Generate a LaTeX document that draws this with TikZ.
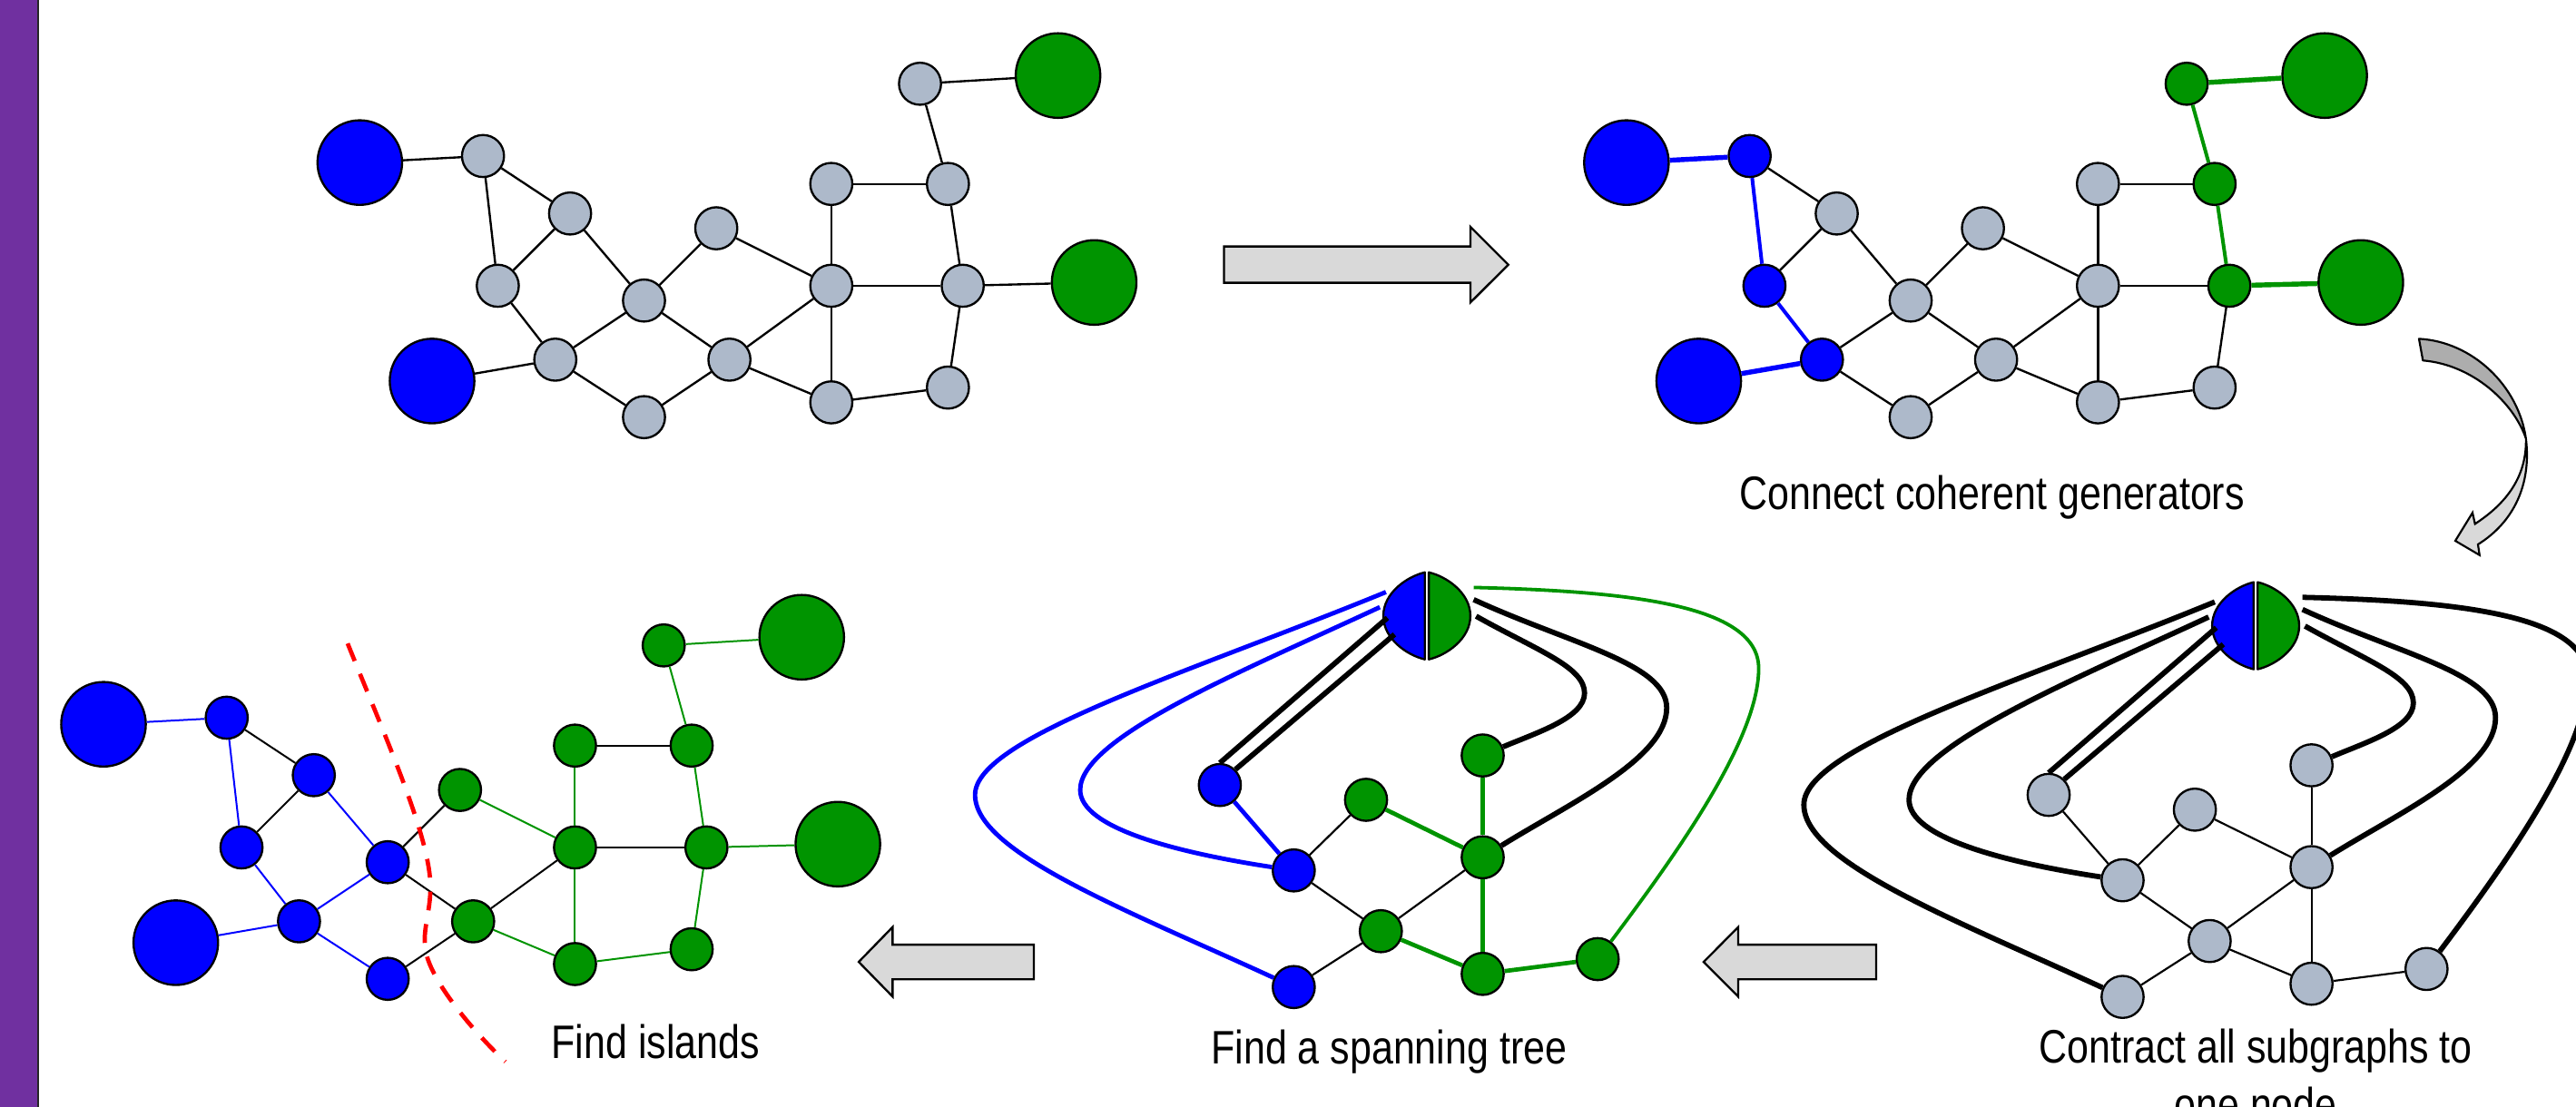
\documentclass[tikz,border=0pt]{standalone}
\usepackage{fontspec}
\newfontfamily\lblfont[FakeStretch=0.83]{Liberation Sans}
\definecolor{gblue}{RGB}{0,0,255}
\definecolor{ggreen}{RGB}{0,148,0}
\definecolor{ngray}{RGB}{173,185,202}
\definecolor{barpurple}{RGB}{112,48,160}
\definecolor{arrlight}{RGB}{217,217,217}
\definecolor{arrdark}{RGB}{173,173,173}
\definecolor{cutred}{RGB}{255,0,0}
\tikzset{
  sn/.style={circle, draw=black, line width=1.3, minimum size=25.6, inner sep=0pt},
  bn/.style={circle, draw=black, line width=1.3, minimum size=51.5, inner sep=0pt},
  ek/.style={draw=black, line width=1.3},
  eb/.style={draw=gblue, line width=2.2},
  ebT/.style={draw=gblue, line width=3},
  eg/.style={draw=ggreen, line width=2.2},
  egT/.style={draw=ggreen, line width=3},
  fk/.style={draw=black, line width=1.1},
  fb/.style={draw=gblue, line width=1.1},
  fg/.style={draw=ggreen, line width=1.1},
  ck/.style={draw=black, line width=1.2},
  cb/.style={draw=gblue, line width=2.6},
  cg/.style={draw=ggreen, line width=2.6},
  ccA/.style={draw=black, line width=3.2},
  ccI/.style={draw=black, line width=3.2},
  ccO/.style={draw=black, line width=3.2},
  ccR1/.style={draw=black, line width=3.2},
  ccR2/.style={draw=black, line width=3.2},
  ccR3/.style={draw=black, line width=3.2},
  blockarrow/.style={fill=arrlight, draw=black, line width=1.3, line join=miter},
  lbl/.style={font=\lblfont\fontsize{28.6}{34}\selectfont, anchor=base, inner sep=0pt},
}
\newcommand\fullgraph[2]{%
  \foreach \n/\px/\py in {a1/294/95, a2/347/130, a3/303/174, a4/338/219, a5/392/183,
      a6/392/254, a7/436/139, a8/444/219, a9/506/112, a10/506/174, a11/506/245,
      a12/577/112, a13/586/174, a14/577/236, a15/560/51}
    {\coordinate (p\n) at (\px,\py);}
  \foreach \n/\fc in {#1} {\node[sn,fill=\fc] (\n) at (p\n) {};}
  \node[bn,fill=gblue] (B1) at (219,99) {};
  \node[bn,fill=gblue] (B2) at (263,232) {};
  \node[bn,fill=ggreen] (G1) at (644,46) {};
  \node[bn,fill=ggreen] (G2) at (666,172) {};
  \foreach \fa/\fb/\fs in {#2} {\expandafter\draw\expandafter[\fs] (\fa) -- (\fb);}
}
\newcommand\cgraph[2]{%
  \foreach \n/\px/\py in {c1/1247/484, c2/1336/493, c3/1407/466, c4/1292/536, c5/1407/528,
      c6/1345/573, c7/1292/607, c8/1407/599, c9/1477/590}
    {\coordinate (p\n) at (\px,\py);}
  \foreach \n/\fc in {#1} {\node[sn,fill=\fc] (\n) at (p\n) {};}
  \foreach \fa/\fb/\fs in {#2} {\expandafter\draw\expandafter[\fs] (\fa) -- (\fb);}
  \node[circle, minimum size=54, inner sep=0pt] (M) at (1373,381) {};
  \begin{scope}[shift={(1373,381)}, line width=1.3, line join=round]
    \filldraw[fill=gblue] (-1.2,-26.5) .. controls (-12,-24) and (-26.5,-14) .. (-26.5,0)
      .. controls (-26.5,14) and (-12,24) .. (-1.2,26.5) -- cycle;
    \filldraw[fill=ggreen] (1.2,-26.5) .. controls (12,-24) and (26.5,-14) .. (26.5,0)
      .. controls (26.5,14) and (12,24) .. (1.2,26.5) -- cycle;
  \end{scope}
  \coordinate (mO) at (1348.1,366.5);
  \coordinate (mI) at (1344.4,375.7);
  \coordinate (mA) at (1349,382.2);
  \coordinate (mB) at (1353.3,392.3);
  \coordinate (mR1) at (1403,381.2);
  \coordinate (mR2) at (1401.5,371.1);
  \coordinate (mR3) at (1401.5,363.7);
  \draw[ccO] (mO) .. controls (1230,415) and (1098,455) .. (1098,490)
     .. controls (1098,525) and (1190,560) .. (c7);
  \draw[ccI] (mI) .. controls (1260,415) and (1162,455) .. (1162,487)
     .. controls (1162,510) and (1220,525) .. (c4);
  \draw[ccA] (mA) -- (c1.north);
  \draw[ccA] (mB) -- (c1.45);
  \draw[ccR1] (mR1) .. controls (1440,402) and (1469,412) .. (1469,428)
     .. controls (1469,443) and (1440,452) .. (c3);
  \draw[ccR2] (mR2) .. controls (1460,398) and (1519,410) .. (1519,437)
     .. controls (1519,468) and (1460,495) .. (c5);
  \draw[ccR3] (mR3) .. controls (1495,366) and (1575,374) .. (1575,413)
     .. controls (1575,456) and (1525,526) .. (c9);
}
\begin{document}
\begin{tikzpicture}[x=1pt,y=-1pt]
\useasboundingbox (0,0) rectangle (1568,674);
\clip (0,0) rectangle (1568,674);
\fill[white] (0,0) rectangle (1568,674);
\fill[barpurple] (0,0) rectangle (22.8,674);
\draw[line width=1.4, black!85] (23.2,0) -- (23.2,674);

% top-left: original graph
\begin{scope}[name prefix=tl-]
\fullgraph{a1/ngray,a2/ngray,a3/ngray,a4/ngray,a5/ngray,a6/ngray,a7/ngray,a8/ngray,a9/ngray,a10/ngray,a11/ngray,a12/ngray,a13/ngray,a14/ngray,a15/ngray}
{B1/a1/ek,a1/a2/ek,a1/a3/ek,a2/a3/ek,a2/a5/ek,a3/a4/ek,a4/B2/ek,a4/a5/ek,a4/a6/ek,a5/a7/ek,a5/a8/ek,a6/a8/ek,a7/a10/ek,a8/a10/ek,a8/a11/ek,a9/a10/ek,a9/a12/ek,a10/a11/ek,a10/a13/ek,a12/a15/ek,a15/G1/ek,a12/a13/ek,a13/G2/ek,a13/a14/ek,a11/a14/ek}
\end{scope}

% top-right: coherent generators connected
\begin{scope}[shift={(771,0)}, name prefix=tr-]
\fullgraph{a1/gblue,a2/ngray,a3/gblue,a4/gblue,a5/ngray,a6/ngray,a7/ngray,a8/ngray,a9/ngray,a10/ngray,a11/ngray,a12/ggreen,a13/ggreen,a14/ngray,a15/ggreen}
{B1/a1/ebT,a1/a2/ek,a1/a3/eb,a2/a3/ek,a2/a5/ek,a3/a4/eb,a4/B2/ebT,a4/a5/ek,a4/a6/ek,a5/a7/ek,a5/a8/ek,a6/a8/ek,a7/a10/ek,a8/a10/ek,a8/a11/ek,a9/a10/ek,a9/a12/ek,a10/a11/ek,a10/a13/ek,a12/a15/eg,a15/G1/egT,a12/a13/eg,a13/G2/egT,a13/a14/ek,a11/a14/ek}
\end{scope}

% bottom-left: islands
\begin{scope}[shift={(-156,342)}, name prefix=bl-]
\fullgraph{a1/gblue,a2/gblue,a3/gblue,a4/gblue,a5/gblue,a6/gblue,a7/ggreen,a8/ggreen,a9/ggreen,a10/ggreen,a11/ggreen,a12/ggreen,a13/ggreen,a14/ggreen,a15/ggreen}
{B1/a1/fb,a1/a2/fk,a1/a3/fb,a2/a3/fk,a2/a5/fb,a3/a4/fb,a4/B2/fb,a4/a5/fb,a4/a6/fb,a5/a7/fk,a5/a8/fk,a6/a8/fk,a7/a10/fg,a8/a10/fk,a8/a11/fg,a9/a10/fg,a9/a12/fk,a10/a11/fg,a10/a13/fk,a12/a15/fg,a15/G1/fg,a12/a13/fg,a13/G2/fg,a13/a14/fg,a11/a14/fg}
\end{scope}

% bottom-right: contracted graph
\begin{scope}[name prefix=ct-]
\cgraph{c1/ngray,c2/ngray,c3/ngray,c4/ngray,c5/ngray,c6/ngray,c7/ngray,c8/ngray,c9/ngray}
{c1/c4/ck,c2/c4/ck,c2/c5/ck,c3/c5/ck,c4/c6/ck,c5/c6/ck,c6/c7/ck,c6/c8/ck,c5/c8/ck,c8/c9/ck}
\end{scope}

% bottom-middle: spanning tree
\begin{scope}[shift={(-504.5,-6)}, name prefix=sp-,
  ccI/.style={draw=gblue, line width=2.7},
  ccO/.style={draw=gblue, line width=2.7},
  ccR3/.style={draw=ggreen, line width=2.1}]
\cgraph{c1/gblue,c2/ggreen,c3/ggreen,c4/gblue,c5/ggreen,c6/ggreen,c7/gblue,c8/ggreen,c9/ggreen}
{c1/c4/cb,c2/c4/ck,c2/c5/cg,c3/c5/cg,c4/c6/ck,c5/c6/ck,c6/c7/ck,c6/c8/cg,c5/c8/cg,c8/c9/cg}
\end{scope}

% island cut
\draw[cutred, line width=2.6, dash pattern=on 11.5pt off 8.5pt]
  (211.6,391.8) .. controls (235,450) and (262,510) .. (262,540)
  .. controls (262,556) and (257,566) .. (259,578)
  .. controls (261,595) and (285,625) .. (307.6,646.5);

% block arrows
\draw[blockarrow] (745,150.1) -- (895,150.1) -- (895,138.1) -- (918.1,161.2) -- (895,184.2) -- (895,172.2) -- (745,172.2) -- cycle;
\draw[blockarrow] (629.3,575.2) -- (543.3,575.2) -- (543.3,564.5) -- (522.7,585.7) -- (543.3,606.8) -- (543.3,596.3) -- (629.3,596.3) -- cycle;
\draw[blockarrow] (1142,575.2) -- (1058,575.2) -- (1058,564.5) -- (1037,585.7) -- (1058,606.8) -- (1058,596.3) -- (1142,596.3) -- cycle;

% curved arrow
\filldraw[fill=arrdark, draw=black, line width=1.2, line join=round]
  (1472.4,206.3) .. controls (1505,208) and (1533,235) .. (1537.5,267)
  .. controls (1530,245) and (1505,222) .. (1474.8,219.5) -- cycle;
\filldraw[fill=arrlight, draw=black, line width=1.2, line join=miter]
  (1537.5,267) .. controls (1541,295) and (1530,318) .. (1508.3,331.5)
  -- (1509.3,338) -- (1494.5,329.3) -- (1505,312.2) -- (1506.5,319)
  .. controls (1528,305) and (1538,288) .. (1537.5,267) -- cycle;

% labels
\node[lbl] (tcon) at (1212.5,310) {Connect coherent generators};
\node[lbl] (tisl) at (399,644.5) {Find islands};
\node[lbl] (tspan) at (845.5,648) {Find a spanning tree};
\node[lbl] (tctr1) at (1373,647.5) {Contract all subgraphs to};
\node[lbl] (tctr2) at (1373,682.5) {one node};
\end{tikzpicture}
\end{document}
